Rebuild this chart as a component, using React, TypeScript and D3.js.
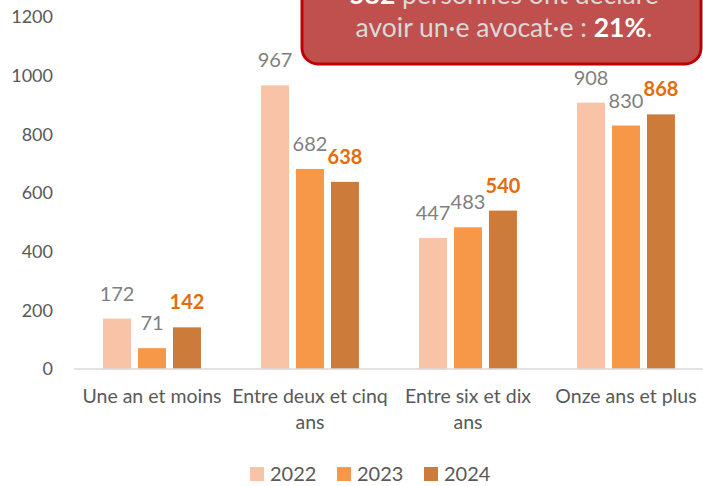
import React from 'react';
import * as d3 from 'd3';

// data
const categories = ['Une an et moins', 'Entre deux et cinq ans', 'Entre six et dix ans', 'Onze ans et plus'];
const years = ['2022', '2023', '2024'];
const values2022 = [172, 967, 447, 908];
const values2023 = [71, 682, 483, 830];
const values2024 = [142, 638, 540, 868];
const yTicks = [0, 200, 400, 600, 800, 1000, 1200];
const colors = ['#F9C3A7', '#F79748', '#CD7B3B'];

const width = 703;
const height = 486;
const font = 'Lato, "Open Sans", sans-serif';

// simple word wrap, like the spreadsheet does for long labels
const wrap = (label: string, maxChars: number) => {
	const lines: string[] = [];
	let cur = '';
	label.split(' ').forEach(w => {
		const next = cur ? cur + ' ' + w : w;
		if (next.length > maxChars && cur) {
			lines.push(cur);
			cur = w;
		} else cur = next;
	});
	if (cur) lines.push(cur);
	return lines;
};

export default function App() {
	const series = [values2022, values2023, values2024];

	const x = d3.scaleBand().domain(categories).range([73, 705]);
	const xInner = d3
		.scaleBand()
		.domain(years)
		.range([0, x.bandwidth()])
		.paddingInner(0.2)
		.paddingOuter(0.86);
	const y = d3.scaleLinear().domain([0, 1200]).range([369, 17]);

	return (
		<svg width={width} height={height} style={{ position: 'absolute', left: 0, top: 0 }}>
			<rect width={width} height={height} fill="#fff" />

			{/* y axis labels */}
			{yTicks.map(t => (
				<text
					key={t}
					x={53}
					y={y(t)}
					dy="0.35em"
					textAnchor="end"
					fontFamily={font}
					fontSize={18}
					fill="#595959"
				>
					{t}
				</text>
			))}

			{/* bars */}
			{series.map((vals, si) =>
				vals.map((v, ci) => (
					<rect
						key={si + '-' + ci}
						x={x(categories[ci])! + xInner(years[si])!}
						y={y(v)}
						width={xInner.bandwidth()}
						height={y(0) - y(v)}
						fill={colors[si]}
					/>
				))
			)}

			{/* baseline */}
			<line x1={74} x2={width} y1={y(0)} y2={y(0)} stroke="#D9D9D9" strokeWidth={1.5} />

			{/* data labels */}
			{series.map((vals, si) =>
				vals.map((v, ci) => (
					<text
						key={'l' + si + '-' + ci}
						x={x(categories[ci])! + xInner(years[si])! + xInner.bandwidth() / 2}
						y={y(v) - 18}
						textAnchor="middle"
						fontFamily={font}
						fontSize={20}
						fontWeight={si === 2 ? 'bold' : 'normal'}
						fill={si === 2 ? '#E46C0A' : '#7F7F7F'}
					>
						{v}
					</text>
				))
			)}

			{/* category labels */}
			{categories.map(c =>
				wrap(c, 18).map((line, i) => (
					<text
						key={c + i}
						x={x(c)! + x.bandwidth() / 2}
						y={403 + i * 26}
						textAnchor="middle"
						fontFamily={font}
						fontSize={19.5}
						fill="#595959"
					>
						{line}
					</text>
				))
			)}

			{/* legend */}
			{years.map((yr, i) => (
				<g key={yr} transform={`translate(${250 + i * 87},0)`}>
					<rect x={0} y={467} width={14} height={14} fill={colors[i]} />
					<text x={20} y={481} fontFamily={font} fontSize={20} fill="#595959">
						{yr}
					</text>
				</g>
			))}

			{/* callout box, cut at the top */}
			<rect x={302} y={-40} width={399} height={104} rx={16} fill="#C0504D" stroke="#C00000" strokeWidth={3} />
			<text x={504} y={4} textAnchor="middle" fontFamily={font} fontSize={26.5} fill="#D9D9D9">
				<tspan fontWeight="bold" fill="#fff">582</tspan> personnes ont déclaré
			</text>
			<text x={504} y={37} textAnchor="middle" fontFamily={font} fontSize={26.5} fill="#D9D9D9">
				avoir un·e avocat·e : <tspan fontWeight="bold" fill="#fff">21%</tspan>.
			</text>
		</svg>
	);
}
